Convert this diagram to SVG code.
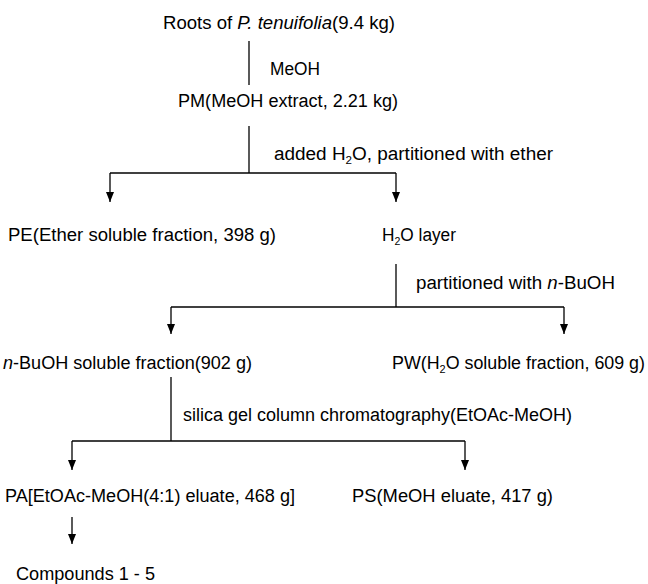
<svg xmlns="http://www.w3.org/2000/svg" width="648" height="584" viewBox="0 0 648 584">
<style>
text{font-family:"Liberation Sans",Arial,sans-serif;font-size:18px;fill:#000}
.i{font-style:italic}
.sub{font-size:11px}
.c{stroke:#000;stroke-width:1.3;fill:none}
.a{stroke:#000;stroke-width:1.3;fill:none;marker-end:url(#ah)}
</style>
<defs>
<marker id="ah" viewBox="0 0 10 8" refX="10" refY="4" markerWidth="10" markerHeight="8" markerUnits="userSpaceOnUse" orient="auto">
<path d="M0,0 L10,4 L0,8 z" fill="#000"/>
</marker>
</defs>
<rect width="648" height="584" fill="#fff"/>
<g id="connectors">
<line class="c" x1="249" y1="41" x2="249" y2="85"/>
<line class="c" x1="249" y1="126" x2="249" y2="173"/>
<line class="c" x1="110" y1="173" x2="396" y2="173"/>
<line class="a" x1="110" y1="173" x2="110" y2="202"/>
<line class="a" x1="396" y1="173" x2="396" y2="202"/>
<line class="c" x1="396" y1="264" x2="396" y2="307"/>
<line class="c" x1="171" y1="307" x2="564" y2="307"/>
<line class="a" x1="171" y1="307" x2="171" y2="334"/>
<line class="a" x1="564" y1="307" x2="564" y2="334"/>
<line class="c" x1="171" y1="377" x2="171" y2="441"/>
<line class="c" x1="72" y1="441" x2="465" y2="441"/>
<line class="a" x1="72" y1="441" x2="72" y2="470"/>
<line class="a" x1="465" y1="441" x2="465" y2="470"/>
<line class="a" x1="72" y1="517" x2="72" y2="544"/>
</g>
<g id="n_roots"><text x="163" y="29" textLength="232" lengthAdjust="spacingAndGlyphs">Roots of <tspan class="i">P. tenuifolia</tspan>(9.4 kg)</text></g>
<g id="l_meoh"><text x="270" y="75" textLength="50" lengthAdjust="spacingAndGlyphs">MeOH</text></g>
<g id="n_pm"><text x="178" y="107" textLength="220" lengthAdjust="spacingAndGlyphs">PM(MeOH extract, 2.21 kg)</text></g>
<g id="l_added"><text x="274" y="160" textLength="279" lengthAdjust="spacingAndGlyphs">added H<tspan class="sub" dy="4">2</tspan><tspan dy="-4">O, partitioned with ether</tspan></text></g>
<g id="n_pe"><text x="8" y="241" textLength="268" lengthAdjust="spacingAndGlyphs">PE(Ether soluble fraction, 398 g)</text></g>
<g id="n_h2o"><text x="382" y="241" textLength="74" lengthAdjust="spacingAndGlyphs">H<tspan class="sub" dy="4">2</tspan><tspan dy="-4">O layer</tspan></text></g>
<g id="l_buoh"><text x="416" y="289" textLength="199" lengthAdjust="spacingAndGlyphs">partitioned with <tspan class="i">n</tspan>-BuOH</text></g>
<g id="n_buoh"><text x="3" y="369" textLength="249" lengthAdjust="spacingAndGlyphs"><tspan class="i">n</tspan>-BuOH soluble fraction(902 g)</text></g>
<g id="n_pw"><text x="392" y="369" textLength="253" lengthAdjust="spacingAndGlyphs">PW(H<tspan class="sub" dy="4">2</tspan><tspan dy="-4">O soluble fraction, 609 g)</tspan></text></g>
<g id="l_silica"><text x="183" y="421" textLength="389" lengthAdjust="spacingAndGlyphs">silica gel column chromatography(EtOAc-MeOH)</text></g>
<g id="n_pa"><text x="5" y="502" textLength="290" lengthAdjust="spacingAndGlyphs">PA[EtOAc-MeOH(4:1) eluate, 468 g]</text></g>
<g id="n_ps"><text x="352" y="502" textLength="201" lengthAdjust="spacingAndGlyphs">PS(MeOH eluate, 417 g)</text></g>
<g id="n_compounds"><text x="16" y="580" textLength="139" lengthAdjust="spacingAndGlyphs">Compounds 1 - 5</text></g>
</svg>
